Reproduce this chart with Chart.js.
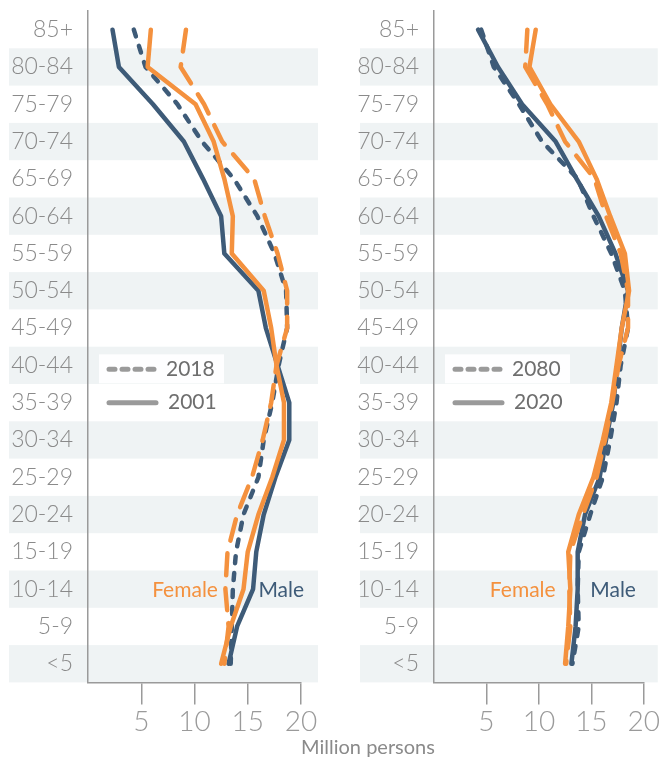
<!DOCTYPE html>
<html>
<head>
<meta charset="utf-8">
<script src="https://cdn.jsdelivr.net/npm/chart.js@4.4.0/dist/chart.umd.min.js"></script>
<style>
    html, body { margin: 0; padding: 0; background: #FFFFFF; }
    #wrap { position: relative; width: 661px; height: 762px; overflow: hidden; }
    canvas { position: absolute; top: 0; }
    #leftChart { left: 0; }
    #rightChart { left: 345px; }
    #xTitle {
        position: absolute; left: 0; width: 736px; top: 734px;
        text-align: center; font: 20px Lato, sans-serif; color: #8A8A8A;
    }
</style>
</head>
<body>
<div id="wrap">
    <canvas id="leftChart" width="330" height="762"></canvas>
    <canvas id="rightChart" width="316" height="762"></canvas>
    <div id="xTitle">Million persons</div>
</div>
<script>
// ==========================================
// Population by age - two panels
// ==========================================

const ageGroups = ["85+", "80-84", "75-79", "70-74", "65-69", "60-64", "55-59", "50-54", "45-49",
    "40-44", "35-39", "30-34", "25-29", "20-24", "15-19", "10-14", "5-9", "<5"];

const xTicks = [5, 10, 15, 20];

// million persons, read top (85+) to bottom (<5)
const female2001 = [5.9, 5.6, 10.1, 11.8, 12.8, 13.6, 13.5, 16.5, 17.2, 17.7, 18.4, 18.4, 17.3, 16.0, 15.0, 14.6, 13.4, 12.5];
const male2001 = [2.3, 2.9, 6.1, 9.0, 10.8, 12.5, 12.8, 16.0, 16.7, 17.8, 18.9, 18.9, 17.6, 16.5, 15.8, 15.5, 14.0, 13.2];
const female2018 = [9.2, 8.7, 10.9, 12.6, 15.6, 16.6, 17.8, 18.7, 18.7, 17.7, 17.2, 16.4, 15.4, 14.0, 13.1, 12.9, 13.2, 12.8];
const male2018 = [4.3, 5.4, 8.4, 10.7, 13.7, 15.9, 17.5, 18.6, 18.7, 17.9, 17.3, 16.5, 16.0, 14.6, 13.9, 13.6, 13.5, 13.4];

const female2020 = [9.7, 9.1, 11.1, 13.8, 15.5, 16.8, 18.2, 18.6, 17.9, 17.4, 16.9, 16.1, 15.2, 13.8, 12.8, 13.0, 12.8, 12.5];
const male2020 = [4.2, 6.1, 8.4, 11.6, 13.6, 15.7, 17.3, 18.5, 17.9, 17.5, 17.1, 16.4, 15.8, 14.4, 13.7, 13.7, 13.5, 13.1];
const female2080 = [8.9, 8.7, 10.8, 12.5, 15.3, 16.4, 17.8, 18.5, 18.5, 17.6, 17.0, 16.3, 15.5, 14.2, 13.0, 12.9, 13.0, 12.6];
const male2080 = [4.5, 5.7, 8.1, 10.3, 13.7, 15.2, 16.9, 18.2, 18.5, 17.8, 17.4, 16.8, 16.1, 14.9, 13.8, 13.7, 13.8, 13.2];

const ORANGE = "#F4913E";
const NAVY = "#3E5B78";
const GREY = "#9A9A9A";
const BAND = "#EFF3F4";
const FONT = "Lato, sans-serif";

const decorPlugin = {
    id: "decor",

    beforeDraw(chart, args, opts) {
        const { ctx, chartArea, scales } = chart;
        const y = scales.y;
        const step = y.getPixelForValue(1) - y.getPixelForValue(0);
        ctx.save();
        ctx.fillStyle = BAND;
        ageGroups.forEach((g, i) => {
            if (i % 2 === 1) {
                const c = y.getPixelForValue(i);
                ctx.fillRect(opts.bandLeft, c - step / 2, chartArea.right + opts.bandExtra - opts.bandLeft, step);
            }
        });
        ctx.restore();
    },

    afterDraw(chart, args, opts) {
        const { ctx, chartArea, scales } = chart;
        const x = scales.x;
        const y = scales.y;
        const left = chartArea.left;

        // legend
        const r1 = y.getPixelForValue(9) + 4;
        const r2 = y.getPixelForValue(10);
        ctx.save();
        ctx.fillStyle = "rgba(255,255,255,0.92)";
        ctx.fillRect(left + 11, r1 - 15, 125, 29);

        ctx.strokeStyle = GREY;
        ctx.lineWidth = 5;
        ctx.lineCap = "round";
        ctx.setLineDash([6, 7]);
        ctx.beginPath();
        ctx.moveTo(left + 21, r1);
        ctx.lineTo(left + 67, r1);
        ctx.stroke();
        ctx.setLineDash([]);
        ctx.beginPath();
        ctx.moveTo(left + 21, r2);
        ctx.lineTo(left + 68, r2);
        ctx.stroke();

        ctx.fillStyle = "#6E6E6E";
        ctx.font = "21px " + FONT;
        ctx.textAlign = "left";
        ctx.textBaseline = "middle";
        ctx.fillText(opts.dashedLabel, left + 78, r1);
        ctx.fillText(opts.solidLabel, left + 80, r2);

        // sex labels
        const ry = y.getPixelForValue(15) + 1;
        ctx.font = "21px " + FONT;
        ctx.fillStyle = ORANGE;
        ctx.textAlign = "right";
        ctx.fillText("Female", x.getPixelForValue(opts.femaleAt), ry);
        ctx.fillStyle = NAVY;
        ctx.textAlign = "left";
        ctx.fillText("Male", x.getPixelForValue(opts.maleAt), ry);
        ctx.restore();
    }
};

function lineSet(data, color, dashed) {
    return {
        data: data,
        borderColor: color,
        borderWidth: 4.5,
        borderDash: dashed ? (color === ORANGE ? [22, 13] : [7, 10]) : [],
        borderCapStyle: "round",
        borderJoinStyle: "round",
        pointRadius: 0,
        tension: 0,
        fill: false
    };
}

function makeChart(id, sets, pad, decor) {
    return new Chart(document.getElementById(id), {
        type: "line",
        data: {
            labels: ageGroups,
            datasets: sets
        },
        options: {
            responsive: false,
            animation: false,
            indexAxis: "y",
            layout: { padding: pad },
            plugins: {
                legend: { display: false },
                tooltip: { enabled: false },
                decor: decor
            },
            scales: {
                x: {
                    type: "linear",
                    min: 0,
                    max: 20,
                    afterBuildTicks: (s) => { s.ticks = xTicks.map(v => ({ value: v })); },
                    grid: { drawOnChartArea: false, drawTicks: true, tickLength: 22, color: GREY, lineWidth: 1.5 },
                    border: { display: true, color: GREY, width: 1.5 },
                    ticks: { color: GREY, font: { family: FONT, size: 28, weight: 300 }, padding: 1 }
                },
                y: {
                    type: "category",
                    offset: true,
                    grid: { display: false, drawTicks: false },
                    border: { display: true, color: GREY, width: 1.5 },
                    ticks: { color: "#8A8A8A", font: { family: FONT, size: 23, weight: 300 }, padding: 15 },
                    afterFit: (s) => {
                        s.width = 78;
                        s.paddingTop = 0;
                        s.paddingBottom = 0;
                    }
                }
            }
        },
        plugins: [decorPlugin]
    });
}

const leftChart = makeChart("leftChart", [
    lineSet(female2001, ORANGE, false),
    lineSet(female2018, ORANGE, true),
    lineSet(male2001, NAVY, false),
    lineSet(male2018, NAVY, true)
], { left: 10, right: 29, top: 11, bottom: 22 }, {
    bandLeft: 9, bandExtra: 17,
    dashedLabel: "2018", solidLabel: "2001",
    femaleAt: 12.2, maleAt: 16.0
});

const rightChart = makeChart("rightChart", [
    lineSet(female2020, ORANGE, false),
    lineSet(female2080, ORANGE, true),
    lineSet(male2020, NAVY, false),
    lineSet(male2080, NAVY, true)
], { left: 11, right: 14, top: 11, bottom: 22 }, {
    bandLeft: 15, bandExtra: 14,
    dashedLabel: "2080", solidLabel: "2020",
    femaleAt: 11.6, maleAt: 14.9
});
</script>
</body>
</html>
